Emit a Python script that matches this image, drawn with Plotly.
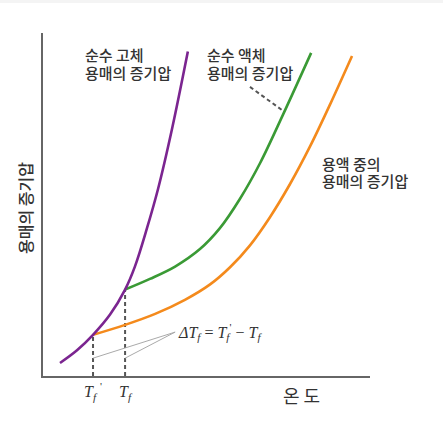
import plotly.graph_objects as go

# Temperature / vapour pressure in arbitrary units
solid_T = [0.52, 1.04, 1.53, 2.05, 2.51, 2.81, 3.18, 3.52, 3.94, 4.43]
solid_P = [0.38, 0.75, 1.20, 1.79, 2.52, 3.19, 4.31, 5.46, 7.18, 9.46]

liquid_T = [2.51, 3.27, 4.04, 4.80, 5.41, 6.02, 6.64, 7.34, 8.20]
liquid_P = [2.52, 2.83, 3.19, 3.70, 4.31, 5.16, 6.21, 7.62, 9.42]

solution_T = [1.53, 2.51, 3.43, 4.34, 5.11, 5.72, 6.33, 6.94, 7.55, 8.17, 8.78, 9.45]
solution_P = [1.20, 1.49, 1.81, 2.22, 2.67, 3.17, 3.81, 4.63, 5.59, 6.70, 7.92, 9.33]

# Freezing points: solution (Tf') and pure solvent (Tf)
freeze_T = [1.53, 2.51]
freeze_P = [1.20, 2.52]
freeze_labels = ["<i>T</i><sub><i>f</i></sub> <sup>'</sup>", "<i>T</i><sub><i>f</i></sub>"]

PURPLE = "#7b2590"
GREEN = "#3a9a35"
ORANGE = "#f48a1c"
TEXT = "#333333"
SANS = "Noto Sans CJK KR"
SERIF = "Liberation Serif"

fig = go.Figure()

# Dashed drop lines from each freezing point to the temperature axis
for t, p in zip(freeze_T, freeze_P):
    fig.add_trace(go.Scatter(x=[t, t], y=[0, p], mode="lines",
                             line=dict(color="#555555", width=2, dash="4px,3px"),
                             hoverinfo="skip"))

# Thin leader lines for the ΔTf label
dT_label = (4.04, 1.28)
for t in freeze_T:
    fig.add_trace(go.Scatter(x=[dT_label[0], t], y=[dT_label[1], 0.52], mode="lines",
                             line=dict(color="#aaaaaa", width=1), hoverinfo="skip"))

# Pointer from the pure-liquid label to its curve
fig.add_trace(go.Scatter(x=[6.33, 7.34], y=[8.43, 7.73], mode="lines",
                         line=dict(color="#555555", width=2, dash="4px,3px"),
                         hoverinfo="skip"))

fig.add_trace(go.Scatter(x=solution_T, y=solution_P, mode="lines",
                         line=dict(color=ORANGE, width=2.6, shape="spline", smoothing=1),
                         hoverinfo="skip"))
fig.add_trace(go.Scatter(x=liquid_T, y=liquid_P, mode="lines",
                         line=dict(color=GREEN, width=2.6, shape="spline", smoothing=1),
                         hoverinfo="skip"))
fig.add_trace(go.Scatter(x=solid_T, y=solid_P, mode="lines",
                         line=dict(color=PURPLE, width=2.6, shape="spline", smoothing=1),
                         hoverinfo="skip"))

# Curve labels, one annotation per line
labels = [
    (1.22, 9.36, "순수 고체"), (1.22, 8.86, "용매의 증기압"),
    (4.95, 9.36, "순수 액체"), (4.95, 8.86, "용매의 증기압"),
    (8.47, 6.21, "용액 중의"), (8.47, 5.69, "용매의 증기압"),
]
for x, y, txt in labels:
    fig.add_annotation(x=x, y=y, text=txt, showarrow=False, xanchor="left", yanchor="middle",
                       align="left", font=dict(family=SANS, size=15, color=TEXT, weight=500))

fig.add_annotation(x=dT_label[0] + 0.03, y=dT_label[1], showarrow=False,
                   xanchor="left", yanchor="middle",
                   text="<i>ΔT</i><sub><i>f</i></sub> = <i>T</i><sub><i>f</i></sub><sup>'</sup> − <i>T</i><sub><i>f</i></sub>",
                   font=dict(family=SERIF, size=16, color=TEXT))

# Axis titles
fig.add_annotation(x=7.89, y=-0.055, xref="x", yref="paper", text="온 도", showarrow=False,
                   xanchor="center", yanchor="middle",
                   font=dict(family=SANS, size=18, color=TEXT))
fig.add_annotation(x=-0.055, y=0.49, xref="paper", yref="paper", text="용매의 증기압",
                   showarrow=False, textangle=-90, xanchor="center", yanchor="middle",
                   font=dict(family=SANS, size=16, color=TEXT, weight=500))

# Thin grey band along the top edge of the page
fig.add_shape(type="rect", xref="paper", yref="paper", x0=-0.2, x1=1.3,
              y0=1.0875, y1=1.2, fillcolor="#f4f4f4", line_width=0, layer="below")

fig.update_layout(
    width=443, height=421,
    margin=dict(l=43, r=73, t=33, b=45),
    paper_bgcolor="white", plot_bgcolor="white",
    showlegend=False,
    xaxis=dict(range=[0, 10], showgrid=False, zeroline=False, showline=True,
               linecolor="#666666", linewidth=2, ticks="",
               tickvals=freeze_T, ticktext=freeze_labels, ticklabelstandoff=0,
               tickfont=dict(family=SERIF, size=16, color=TEXT)),
    yaxis=dict(range=[0, 10], showgrid=False, zeroline=False, showline=True,
               linecolor="#666666", linewidth=2, showticklabels=False, ticks=""),
)

fig.write_html("out.html")
